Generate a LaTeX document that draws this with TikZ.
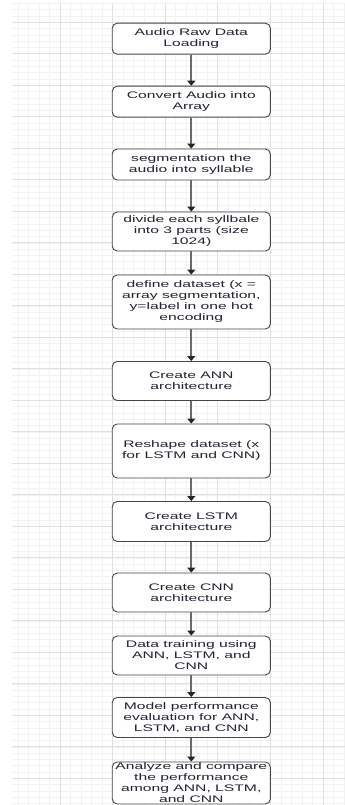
\documentclass[tikz,border=0pt]{standalone}
\usepackage{fontspec}
\setmainfont{Liberation Sans}
\usepackage{tikz}
\usetikzlibrary{arrows.meta, positioning, calc}
\usepackage{xcolor}
\definecolor{gridminor}{RGB}{242,242,242}
\definecolor{gridmajor}{RGB}{224,224,224}
\definecolor{boxline}{RGB}{70,70,70}
\definecolor{flowgray}{RGB}{105,105,105}
\definecolor{textdark}{RGB}{35,35,50}

\begin{document}
\begin{tikzpicture}[x=1pt, y=-1pt,
  stepbox/.style={draw=boxline, line width=0.9pt, rounded corners=5pt, fill=white,
    xscale=1.65, transform shape, minimum width=95.8pt, inner sep=1pt,
    align=center, text=textdark, font=\fontsize{9.5}{11}\selectfont},
  flowarrow/.style={draw=flowgray, line width=2.2pt,
    -{Triangle[width=8pt, length=5pt, color=black!85]}}]
  \useasboundingbox[fill=white] (0,0) rectangle (345,805);
  % Grid background
  \begin{scope}
    \clip (12,3) rectangle (345,805);
    \foreach \gx in {17.9,28.42,...,350} {
      \draw[gridminor, line width=0.6pt] (\gx,3) -- (\gx,805);
    }
    \foreach \gy in {3.4,9.7,...,810} {
      \draw[gridminor, line width=0.6pt] (12,\gy) -- (345,\gy);
    }
    \foreach \gx in {7.4,60,112.6,165.2,217.8,270.4,323} {
      \draw[gridmajor, line width=0.8pt] (\gx,3) -- (\gx,805);
    }
    \foreach \gy in {22.3,53.8,...,810} {
      \draw[gridmajor, line width=0.8pt] (12,\gy) -- (345,\gy);
    }
  \end{scope}
  % Steps
  \foreach \n/\y/\h/\txt in {
    1/38.7/31/{Audio Raw Data\\Loading},
    2/101.7/31/{Convert Audio into\\Array},
    3/164.5/31/{segmentation the\\audio into syllable},
    4/231.5/39/{divide each syllbale\\into 3 parts (size\\1024)},
    5/302/54/{define dataset (x =\\array segmentation,\\y=label in one hot\\encoding},
    6/381/39/{Create ANN\\architecture},
    7/451/54/{Reshape dataset (x\\for LSTM and CNN)},
    8/521.5/40/{Create LSTM\\architecture},
    9/592.5/39/{Create CNN\\architecture},
    10/655.5/39/{Data training using\\ANN, LSTM, and\\CNN},
    11/717.5/40/{Model performance\\evaluation for ANN,\\LSTM, and CNN},
    12/783/42/{Analyze and compare\\the performance\\among ANN, LSTM,\\and CNN}} {
    \node[stepbox, minimum height=\h pt] (s\n) at (191.3,\y) {\txt};
  }
  % Connectors
  \foreach \i in {1,...,11} {
    \pgfmathtruncatemacro{\j}{\i+1}
    \draw[flowarrow] (s\i.south) -- (s\j.north);
  }
\end{tikzpicture}
\end{document}
